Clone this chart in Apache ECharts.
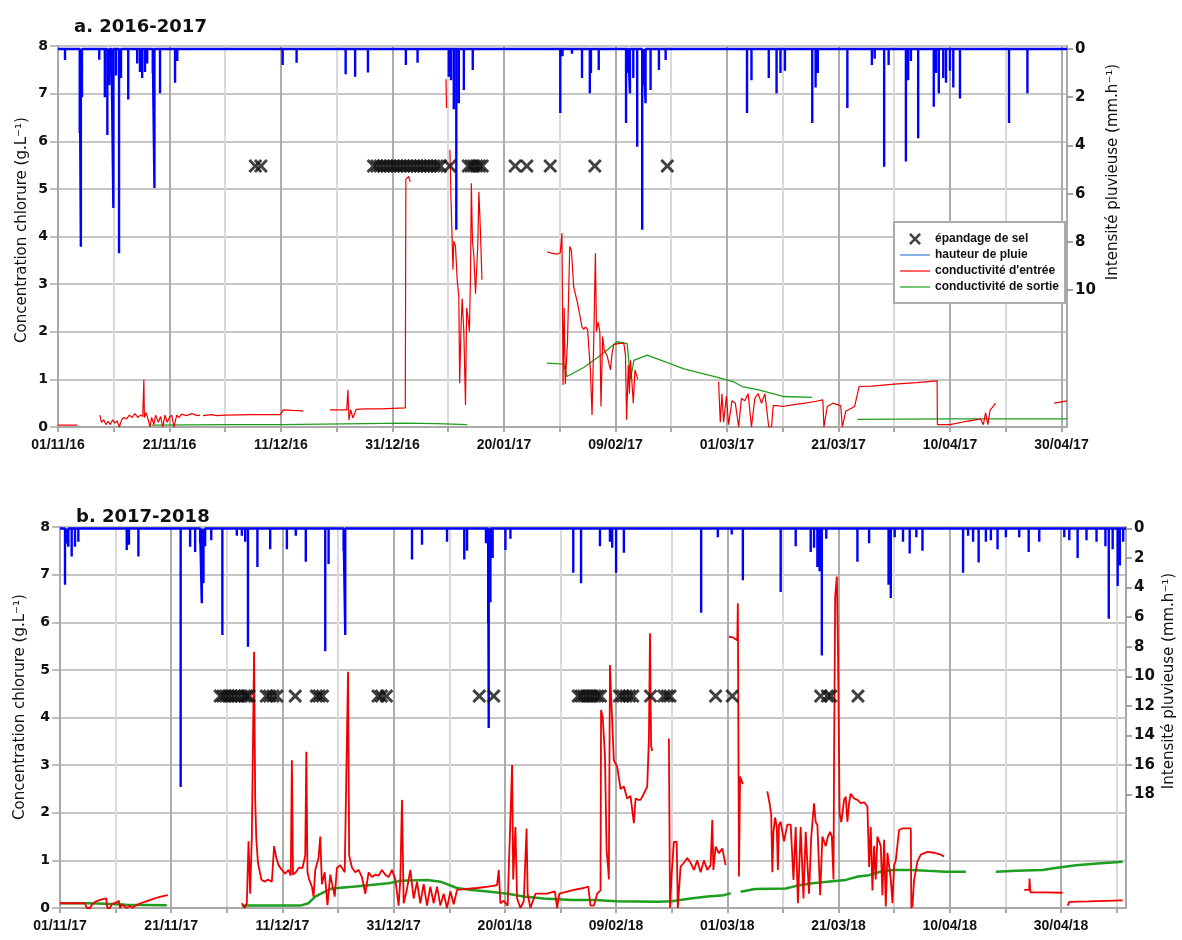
<!DOCTYPE html>
<html><head><meta charset="utf-8">
<script src="https://cdn.jsdelivr.net/npm/echarts@6/dist/echarts.min.js"></script>
<style>html,body{margin:0;padding:0;background:#fff}#c{width:1182px;height:940px}</style>
</head><body><div id="c"></div>
<script>
// ---------- DATA (x = days since season start, y = value) ----------
const seasonStartA = Date.UTC(2016, 10, 1);
const seasonStartB = Date.UTC(2017, 10, 1);
const lastDayA = 181;
const lastDayB = 191.7;
const titleA = 'a. 2016-2017';
const titleB = 'b. 2017-2018';
const leftAxisTitle = 'Concentration chlorure (g.L\u207B\u00B9)';
const rightAxisTitle = 'Intensit\u00e9 pluvieuse (mm.h\u207B\u00B9)';
const concTicks = [0, 1, 2, 3, 4, 5, 6, 7, 8];
const rainTicksA = [0, 2, 4, 6, 8, 10];
const rainTicksB = [0, 2, 4, 6, 8, 10, 12, 14, 16, 18];
const seriesNames = ['\u00e9pandage de sel', 'hauteur de pluie', "conductivit\u00e9 d'entr\u00e9e", 'conductivit\u00e9 de sortie'];

// rain intensity peaks (mm/h)
const rainA = [[1.26,0.46],[3.9,3.5],[4.1,8.2],[4.3,2.0],[7.4,0.45],[8.4,2.0],[8.85,3.57],[9.2,1.5],[9.6,1.1],[9.93,6.6],[10.4,1.1],[10.95,8.47],[11.3,1.2],[12.6,2.1],[14.2,0.6],[14.7,0.95],[15.1,1.2],[15.6,0.95],[16.0,0.6],[17.0,1.0],[17.3,5.77],[18.3,1.84],[21.0,1.4],[21.4,0.5],[40.3,0.66],[42.8,0.57],[51.6,1.05],[53.3,1.15],[55.6,0.98],[62.4,0.66],[64.5,0.57],[70.1,1.15],[70.5,1.3],[71.0,2.5],[71.45,7.5],[71.9,2.25],[72.8,1.7],[74.4,0.87],[90.1,2.66],[90.5,0.3],[92.2,0.2],[94.0,1.2],[95.4,1.84],[95.6,1.0],[97.0,0.87],[101.9,3.07],[102.3,1.0],[102.6,1.84],[103.2,1.2],[103.9,4.05],[104.8,7.5],[105.1,1.5],[105.4,2.25],[106.3,1.7],[107.8,0.87],[109.0,0.46],[123.6,2.66],[124.4,1.3],[127.5,1.2],[128.9,1.84],[129.6,1.0],[130.4,0.9],[135.3,3.07],[135.9,1.6],[136.3,1.0],[141.6,2.45],[146.0,0.66],[146.5,0.4],[148.2,4.88],[149.0,0.66],[152.1,4.67],[152.5,1.3],[153.0,0.5],[154.3,3.7],[157.1,2.4],[157.5,1.0],[158.0,1.84],[158.8,1.2],[159.3,1.4],[160.0,0.9],[160.6,1.6],[161.8,2.05],[170.6,3.07],[173.9,1.84]];
const rainB = [[0.9,3.8],[1.2,1.0],[1.5,1.23],[2.1,1.9],[2.7,1.23],[3.3,0.9],[12.0,1.45],[12.4,1.1],[14.1,1.9],[21.7,17.5],[23.4,1.23],[24.3,1.6],[25.2,1.0],[25.5,5.06],[25.8,3.7],[26.1,1.2],[27.2,0.8],[29.2,7.2],[31.8,0.5],[32.7,0.5],[33.3,0.9],[33.8,8.0],[35.5,2.6],[37.8,1.4],[40.8,1.4],[42.4,0.5],[44.2,2.25],[47.7,8.3],[48.3,2.4],[51.0,1.5],[51.3,7.2],[63.3,2.1],[65.1,1.1],[69.6,0.9],[72.7,2.1],[73.2,1.5],[76.6,1.0],[77.0,6.4],[77.1,13.5],[77.4,5.0],[77.8,2.0],[80.1,1.45],[81.0,0.7],[92.3,3.0],[93.7,3.7],[97.1,1.2],[98.9,0.9],[99.3,1.3],[100.0,3.0],[101.4,1.65],[115.3,5.7],[118.3,0.6],[120.8,0.4],[122.8,3.5],[129.6,4.3],[132.3,1.2],[135.0,1.6],[135.6,1.3],[136.2,2.6],[136.6,2.9],[137.0,8.6],[137.8,0.7],[143.4,2.25],[145.5,1.0],[149.0,3.8],[149.4,4.7],[150.1,0.6],[151.6,0.9],[152.8,1.7],[154.0,0.6],[155.1,1.5],[162.4,3.0],[163.3,0.5],[164.2,0.9],[165.2,2.3],[166.5,0.9],[167.4,0.8],[168.6,1.4],[170.1,0.6],[172.5,0.6],[174.2,1.6],[176.1,0.9],[180.6,0.6],[181.5,0.8],[183.0,2.0],[184.6,0.8],[186.4,0.9],[188.0,1.2],[188.6,6.1],[189.3,1.4],[190.2,3.9],[190.6,2.5],[191.2,0.9]];

// inlet conductivity (segments separated by data gaps)
const inletA = [
  [[0,0.04],[3.5,0.04]],
  [[7.5,0.25],[7.8,0.1],[8.2,0.15],[8.6,0.05],[9.0,0.12],[9.4,0.05],[9.8,0.15],[10.2,0.08],[10.6,0.13],[11.0,0.0],[11.4,0.15],[11.8,0.2],[12.3,0.17],[12.8,0.25],[13.3,0.2],[13.8,0.28],[14.3,0.2],[14.8,0.25],[15.2,0.22],[15.4,0.99],[15.5,0.2],[15.8,0.3],[16.2,0.15],[16.5,0.0],[16.8,0.2],[17.2,0.05],[17.5,0.25],[18.0,0.1],[18.4,0.22],[18.8,0.0],[19.2,0.25],[19.6,0.1],[20.0,0.2],[20.4,0.25],[20.8,0.0],[21.1,0.0],[21.3,0.25],[21.7,0.2],[22.2,0.27],[23,0.24],[24,0.28],[25,0.24],[25.5,0.25]],
  [[26.0,0.24],[27.5,0.26],[28.5,0.24],[30,0.25],[35,0.26],[39.9,0.26],[40.4,0.36],[42,0.35],[44,0.34]],
  [[48.8,0.36],[51.8,0.36],[52.0,0.78],[52.2,0.15],[52.5,0.36],[52.9,0.19],[53.5,0.37],[55,0.38],[58,0.38],[62.3,0.4],[62.4,5.2],[62.9,5.26],[63.2,5.15]],
  [[69.6,7.3],[69.7,6.7]],
  [[70.3,5.82],[70.5,4.77],[70.7,3.93],[70.85,3.3],[71.0,3.9],[71.3,3.8],[71.6,3.1],[71.9,2.74],[72.05,0.92],[72.3,2.1],[72.5,2.7],[72.8,2.0],[73.1,0.46],[73.3,2.5],[73.55,2.3],[73.8,2.0],[74.0,3.23],[74.15,5.12],[74.35,3.9],[74.6,3.6],[74.9,2.8],[75.1,3.3],[75.3,3.8],[75.5,4.94],[75.75,4.2],[76.05,3.09]],
  [[87.7,3.68],[88.5,3.65],[89.5,3.63],[90.1,3.66],[90.4,4.07],[90.6,0.88],[90.8,2.5],[91.0,0.9],[91.4,1.8],[91.8,3.79],[92.1,3.7],[92.5,2.95],[93.2,2.6],[94.0,2.1],[94.3,2.05],[94.6,2.1],[95.0,2.05],[95.5,1.2],[95.8,0.25],[96.1,1.8],[96.4,3.65],[96.6,2.0],[96.9,2.2],[97.2,2.0],[97.4,0.43],[97.7,1.9],[98.0,1.6],[98.5,1.5],[99.1,1.2],[99.4,1.55],[99.7,1.73],[100.5,1.75],[101.5,1.76],[101.8,1.5],[102.0,0.15],[102.3,1.3],[102.5,0.7],[102.7,1.4],[103.2,0.5],[103.5,1.2],[104.0,1.0]],
  [[118.5,0.95],[118.8,0.1],[119.1,0.7],[119.4,0.1],[119.9,0.65],[120.3,0.05],[120.9,0.55],[121.5,0.5],[122.1,0.0],[122.6,0.6],[123.2,0.55],[123.8,0.7],[124.4,0.0],[125.0,0.6],[125.6,0.7],[126.2,0.5],[126.8,0.7],[127.5,0.0],[128.0,0.0],[128.3,0.45],[129,0.45],[130,0.43],[132,0.47],[134,0.5],[136,0.54],[137.2,0.57],[137.4,0.0],[138.0,0.43],[139,0.5],[140.4,0.45],[140.7,0.0],[141.3,0.33],[142.9,0.43],[143.7,0.85],[146,0.86],[150,0.9],[154,0.93],[157.7,0.97],[157.75,0.05],[160,0.05],[163,0.12],[165.5,0.17],[166.0,0.05],[166.4,0.3],[166.8,0.05],[167.2,0.35],[168.2,0.5]],
  [[178.7,0.5],[181,0.55]]
];
const outletA = [
  [[16.8,0.04],[30,0.05],[40,0.05],[55,0.07],[62,0.08],[68,0.07],[73.4,0.05]],
  [[87.7,1.34],[90.7,1.32],[91.3,1.06],[94.3,1.25],[97.3,1.5],[100.3,1.79],[102.1,1.75],[102.7,1.0],[103.3,1.4],[105.7,1.51],[109.3,1.35],[112.3,1.22],[115.3,1.13],[118,1.05],[121.2,0.95],[122.7,0.85],[125.7,0.78],[130.2,0.64],[135.3,0.62]],
  [[143.4,0.16],[160,0.17],[170,0.17],[181,0.17]]
];
const inletB = [
  [[0,0.1],[2,0.1],[4.5,0.1],[4.8,0.0],[5.4,0.0],[5.8,0.08],[6.5,0.14],[7.5,0.18],[8.3,0.2],[8.5,0.0],[9.0,0.0],[9.3,0.08],[10.2,0.12],[10.6,0.15],[10.8,0.0],[11.2,0.08],[11.6,0.03],[12.0,0.0],[12.6,0.05],[13.0,0.0],[13.6,0.05],[14.5,0.1],[15.5,0.14],[16.5,0.18],[17.5,0.22],[18.5,0.25],[19.4,0.27]],
  [[32.7,0.1],[33.2,0.0],[33.6,0.1],[33.9,1.4],[34.2,0.3],[34.5,1.5],[34.9,5.38],[35.1,2.3],[35.3,1.45],[35.6,0.95],[36.2,0.6],[36.8,0.55],[37.4,0.6],[38.1,0.55],[38.5,1.3],[38.9,1.05],[39.3,0.9],[39.9,0.8],[40.5,0.72],[41.1,0.8],[41.5,0.68],[41.7,3.1],[41.9,0.7],[42.4,0.75],[43.0,0.85],[43.6,0.84],[44.1,1.1],[44.3,3.28],[44.5,0.75],[44.8,0.6],[45.3,0.45],[45.6,0.24],[45.9,0.8],[46.5,1.05],[46.8,1.5],[47.1,0.5],[47.6,0.75],[48.1,0.06],[48.6,0.7],[49.4,0.24],[49.8,0.84],[50.4,0.9],[51.2,0.75],[51.8,4.96],[52.0,1.1],[52.5,0.85],[53.1,0.75],[53.7,0.8],[54.3,0.65],[54.9,0.3],[55.5,0.75],[56.1,0.65],[56.7,0.7],[57.3,0.68],[57.9,0.8],[58.5,0.7],[59.1,0.65],[59.7,0.8],[60.3,0.6],[60.9,0.05],[61.2,0.6],[61.5,2.27],[61.8,0.1],[62.4,0.4],[63.0,0.8],[63.6,0.2],[64.2,0.55],[64.8,0.1],[65.4,0.5],[66.0,0.05],[66.6,0.45],[67.2,0.1],[67.8,0.45],[68.4,0.05],[69.0,0.3],[69.6,0.0],[70.2,0.35],[70.8,0.08],[71.4,0.38],[73,0.4],[75,0.42],[77,0.45],[78.6,0.48],[78.9,0.8],[79.2,0.1],[79.8,0.15],[80.5,0.05],[81.3,3.0],[81.5,0.6],[81.9,1.7],[82.2,0.2],[82.8,0.0],[83.4,0.15],[83.9,1.67],[84.1,0.3],[84.6,0.0],[85.5,0.3],[87.6,0.3],[89.0,0.35],[89.4,0.0],[89.8,0.3],[92.4,0.38],[94.2,0.42],[95.0,0.45],[95.4,0.05],[96.0,0.05],[96.6,0.3],[97.2,0.37],[97.3,4.16],[97.6,4.0],[98.0,3.2],[98.3,1.2],[98.6,0.8],[98.7,0.6],[98.9,5.1],[99.2,4.2],[99.6,3.1],[100.2,2.97],[100.8,2.5],[101.4,2.55],[102.0,2.3],[102.6,2.35],[103.2,1.78],[103.5,2.3],[104.0,2.27],[104.4,2.27],[105.0,2.4],[105.6,2.55],[105.9,3.53],[106.1,5.77],[106.3,3.4],[106.5,3.3]],
  [[109.5,3.56],[109.7,0.0],[110.0,0.73],[110.4,1.39],[110.9,1.39],[111.1,0.0],[111.6,0.87],[112.2,0.95],[112.8,1.05],[113.4,0.95],[114.0,0.8],[114.6,1.0],[115.2,0.75],[115.8,1.0],[116.4,0.8],[117.0,0.9],[117.3,1.85],[117.5,0.8],[117.9,1.29],[118.5,1.15],[119.1,1.25],[119.7,0.9]],
  [[120.3,5.7],[121.0,5.68],[121.8,5.62],[121.9,6.4],[122.1,0.66],[122.3,2.76],[122.8,2.6]],
  [[127.2,2.45],[127.6,2.2],[127.9,1.95],[128.1,0.75],[128.3,1.6],[128.6,1.9],[128.9,1.7],[129.1,0.8],[129.3,1.75],[129.6,1.81],[130.2,1.4],[130.8,1.75],[131.4,1.75],[131.9,0.59],[132.3,1.7],[132.7,0.1],[133.2,1.7],[133.7,0.2],[134.1,1.6],[134.7,0.3],[135.1,1.5],[135.6,2.2],[135.9,1.8],[136.2,1.75],[136.7,0.27],[137.1,1.5],[137.7,1.3],[138.1,1.5],[138.5,1.6],[138.8,1.5],[139.1,0.6],[139.2,3.04],[139.4,6.54],[139.7,6.96],[139.9,5.49],[140.2,1.99],[140.5,1.8],[141.0,2.27],[141.3,2.34],[141.6,1.81],[141.9,2.2],[142.2,2.4],[142.8,2.3],[143.4,2.27],[144.0,2.2],[144.6,2.22],[145.2,2.13],[145.5,0.86],[145.8,1.7],[146.1,0.37],[146.4,1.3],[146.7,0.6],[147.0,1.5],[147.6,1.3],[147.9,0.27],[148.2,1.43],[148.5,0.03],[148.8,1.16],[149.1,1.16],[149.4,0.6],[149.7,0.1],[150.0,0.9],[150.3,1.0],[150.9,1.64],[151.5,1.67],[152.2,1.67],[153.0,1.67],[153.1,0.0],[153.3,0.05],[153.6,0.59],[154.2,0.98],[154.8,1.12],[156.0,1.18],[157.2,1.16],[158.4,1.12],[159.0,1.08]],
  [[173.4,0.38],[174.3,0.38],[174.35,0.62],[174.5,0.33],[177,0.33],[180.3,0.32]],
  [[181.2,0.05],[181.5,0.13],[185,0.14],[188,0.15],[191.1,0.16]]
];
const outletB = [
  [[0,0.1],[5,0.1],[8,0.09],[12,0.07],[19.2,0.06]],
  [[32.7,0.05],[38,0.05],[43.2,0.05],[44.7,0.1],[45.9,0.24],[47.1,0.31],[48.9,0.41],[53.1,0.45],[59.1,0.52],[61.2,0.57],[66.0,0.59],[68.5,0.55],[71.4,0.42],[74,0.38],[77.4,0.34],[80.5,0.3],[83.4,0.24],[87,0.2],[92,0.17],[96.2,0.17],[100,0.14],[107.4,0.13],[110,0.14],[113.4,0.2],[116.4,0.24],[119.4,0.27],[120.6,0.31]],
  [[122.4,0.34],[125,0.4],[130.5,0.41],[133,0.48],[135.3,0.52],[138,0.55],[141.3,0.59],[143.5,0.66],[145.5,0.69],[147.5,0.76],[149.7,0.8],[153,0.8],[156,0.78],[159.3,0.76],[162.9,0.76]],
  [[168.3,0.76],[172,0.78],[176.7,0.8],[179,0.84],[182.7,0.9],[186,0.93],[191.1,0.97]]
];

// salt spreading days and drawing level (g/L axis)
const saltLevelA = 5.48;
const saltLevelB = 4.45;
const saltDaysA = [35.4,36.4,56.6,57.2,57.8,58.4,59.0,59.6,60.2,60.8,61.4,62.0,62.6,63.2,63.8,64.4,65.0,65.6,66.2,66.8,67.4,68.0,68.6,70.3,73.6,74.1,74.6,75.1,75.6,76.1,82.0,84.1,88.3,96.3,109.3];
const saltDaysB = [28.8,29.3,29.8,30.3,30.8,31.4,32.0,32.6,33.2,33.6,34.0,37.1,37.7,38.3,39.0,42.3,46.1,46.6,47.2,57.2,57.8,58.7,75.4,78.0,93.2,93.7,94.2,94.7,95.2,95.7,96.2,96.7,97.2,100.6,101.2,101.8,102.4,103.0,106.2,108.6,109.2,109.7,117.9,120.9,136.8,138.0,138.6,143.5];

// ---------- BUILD ----------
const DAY = 86400000;
function dateLabel(start) {
  return function (v) {
    if (Math.abs(v - Math.round(v / 20) * 20) > 1e-6) return '';
    const d = new Date(start + Math.round(v) * DAY);
    const p = n => String(n).padStart(2, '0');
    return p(d.getUTCDate()) + '/' + p(d.getUTCMonth() + 1) + '/' + p(d.getUTCFullYear() % 100);
  };
}
function spikes(list, last) {
  const out = [[0, 0]];
  list.slice().sort((a, b) => a[0] - b[0]).forEach(([d, v]) => { out.push([d, 0], [d, v], [d, 0]); });
  out.push([last, 0]);
  return out;
}
function joinSegs(segs) {
  const out = [];
  segs.forEach((s, i) => {
    if (i > 0) { const prev = segs[i - 1]; out.push([(prev[prev.length - 1][0] + s[0][0]) / 2, null]); }
    s.forEach(p => out.push(p));
  });
  return out;
}
const XPATH = 'path://M0,1.5 L1.5,0 L5,3.5 L8.5,0 L10,1.5 L6.5,5 L10,8.5 L8.5,10 L5,6.5 L1.5,10 L0,8.5 L3.5,5 Z';
const LINEPATH = 'path://M0,0 L40,0 L40,1.6 L0,1.6 Z';
const GRID_C = '#a9a9a9';
const FONT = '"DejaVu Sans", sans-serif';
const NARROW = '"Liberation Sans", Arial, sans-serif';

function xAxisFor(gi, max, start) {
  return {
    type: 'value', gridIndex: gi, min: 0, max: max, interval: 10,
    axisLine: { show: true, lineStyle: { color: GRID_C, width: 2 } },
    axisTick: { show: true, length: 5, lineStyle: { color: GRID_C, width: 2 } },
    axisLabel: { formatter: dateLabel(start), margin: 11, color: '#111', fontFamily: NARROW, fontWeight: 'bold', fontSize: 14, showMaxLabel: false },
    splitLine: { show: true, lineStyle: { color: ['#acacac', '#dadada'], width: 2 } }
  };
}
function concAxis(gi) {
  return {
    type: 'value', gridIndex: gi, min: 0, max: 8, interval: 1, position: 'left',
    axisLine: { show: true, lineStyle: { color: GRID_C, width: 2 } },
    axisTick: { show: true, length: 8, lineStyle: { color: GRID_C, width: 1.5 } },
    axisLabel: { color: '#111', fontFamily: FONT, fontWeight: 'bold', fontSize: 14, margin: 10 },
    splitLine: { show: true, lineStyle: { color: '#c6c6c6', width: 2 } }
  };
}
function rainAxis(gi, min, max, ticks) {
  return {
    type: 'value', gridIndex: gi, min: min, max: max, inverse: true, position: 'right',
    axisLine: { show: true, lineStyle: { color: GRID_C, width: 2 } },
    axisTick: { show: true, length: 6, customValues: ticks, lineStyle: { color: '#888', width: 1.5 } },
    axisLabel: { customValues: ticks, color: '#111', fontFamily: FONT, fontWeight: 'bold', fontSize: 15, margin: 8 },
    splitLine: { show: false }
  };
}
function panelSeries(xi, yc, yr, rain, last, inlet, outlet, saltDays, saltLevel, wRed, wGreen) {
  return [
    { name: seriesNames[1], type: 'line', xAxisIndex: xi, yAxisIndex: yr, data: spikes(rain, last),
      symbol: 'none', lineStyle: { color: '#0000ff', width: 2.4 }, itemStyle: { color: '#0000ff' }, z: 2, silent: true },
    { name: seriesNames[3], type: 'line', xAxisIndex: xi, yAxisIndex: yc, data: joinSegs(outlet),
      symbol: 'none', connectNulls: false, lineStyle: { color: '#1e9e1e', width: wGreen }, itemStyle: { color: '#1e9e1e' }, z: 3, silent: true },
    { name: seriesNames[2], type: 'line', xAxisIndex: xi, yAxisIndex: yc, data: joinSegs(inlet),
      symbol: 'none', connectNulls: false, lineStyle: { color: '#f00000', width: wRed }, itemStyle: { color: '#f00000' }, z: 4, silent: true },
    { name: seriesNames[0], type: 'scatter', xAxisIndex: xi, yAxisIndex: yc, data: saltDays.map(d => [d, saltLevel]),
      symbol: XPATH, symbolSize: 14, itemStyle: { color: '#111' }, z: 5, silent: true }
  ];
}

const chart = echarts.init(document.getElementById('c'), null, { renderer: 'canvas' });
chart.setOption({
  animation: false,
  backgroundColor: '#fff',
  title: [
    { text: titleA, left: 69, top: 13, textStyle: { fontFamily: FONT, fontWeight: 'bold', fontSize: 18, color: '#111' } },
    { text: titleB, left: 71, top: 503, textStyle: { fontFamily: FONT, fontWeight: 'bold', fontSize: 18, color: '#111' } }
  ],
  grid: [
    { left: 58, top: 46, width: 1009, height: 381, show: true, borderColor: GRID_C, borderWidth: 2, containLabel: false },
    { left: 60, top: 527, width: 1066, height: 381, show: true, borderColor: GRID_C, borderWidth: 2, containLabel: false }
  ],
  xAxis: [xAxisFor(0, lastDayA, seasonStartA), xAxisFor(1, lastDayB, seasonStartB)],
  yAxis: [concAxis(0), rainAxis(0, -0.124, 15.68, rainTicksA), concAxis(1), rainAxis(1, -0.1, 25.68, rainTicksB)],
  legend: {
    orient: 'vertical', left: 894, top: 222,
    backgroundColor: '#fff', borderColor: '#aaa', borderWidth: 2, borderRadius: 0,
    padding: [11, 6, 10, 6], itemWidth: 30, itemHeight: 12, itemGap: 4, selectedMode: false,
    textStyle: { fontFamily: NARROW, fontWeight: 'bold', fontSize: 12, color: '#111' },
    data: [
      { name: seriesNames[0], icon: XPATH, itemStyle: { color: '#111' } },
      { name: seriesNames[1], icon: LINEPATH, itemStyle: { color: '#3d7fd0' } },
      { name: seriesNames[2], icon: LINEPATH, itemStyle: { color: '#f00000' } },
      { name: seriesNames[3], icon: LINEPATH, itemStyle: { color: '#1e9e1e' } }
    ]
  },
  graphic: [
    { type: 'text', x: 22, y: 230, rotation: Math.PI / 2, style: { text: leftAxisTitle, font: '15px ' + FONT, fill: '#111', align: 'center', verticalAlign: 'middle' } },
    { type: 'text', x: 1113, y: 172, rotation: Math.PI / 2, style: { text: rightAxisTitle, font: '15px ' + FONT, fill: '#111', align: 'center', verticalAlign: 'middle' } },
    { type: 'text', x: 20, y: 707, rotation: Math.PI / 2, style: { text: leftAxisTitle, font: '15px ' + FONT, fill: '#111', align: 'center', verticalAlign: 'middle' } },
    { type: 'text', x: 1169, y: 681, rotation: Math.PI / 2, style: { text: rightAxisTitle, font: '15px ' + FONT, fill: '#111', align: 'center', verticalAlign: 'middle' } }
  ],
  series: [].concat(
    panelSeries(0, 0, 1, rainA, lastDayA, inletA, outletA, saltDaysA, saltLevelA, 1.2, 1.3),
    panelSeries(1, 2, 3, rainB, lastDayB, inletB, outletB, saltDaysB, saltLevelB, 1.8, 2.5)
  )
});
</script>
</body></html>
